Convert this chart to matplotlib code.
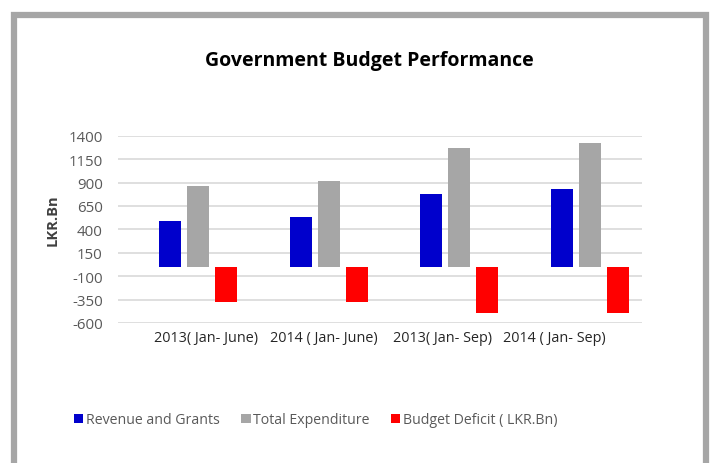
import numpy as np
import matplotlib
matplotlib.use("Agg")
import matplotlib.pyplot as plt
from matplotlib.patches import Rectangle, Patch

plt.rcParams['font.family'] = ['Open Sans', 'DejaVu Sans']

# ---- Data (LKR.Bn) ---------------------------------------------------------
periods = ["2013( Jan- June)", "2014 ( Jan- June)", "2013( Jan- Sep)", "2014 ( Jan- Sep)"]
revenue = [486, 536, 781, 831]
expenditure = [863, 913, 1268, 1318]
deficit = [-376, -376, -493, -489]
series_names = ["Revenue and Grants", "Total Expenditure", "Budget Deficit ( LKR.Bn)"]
yticks = [-600, -350, -100, 150, 400, 650, 900, 1150, 1400]

C_REV = '#0000CC'
C_EXP = '#A6A6A6'
C_DEF = '#FF0000'

W, H = 712, 464
fig = plt.figure(figsize=(W / 100, H / 100), dpi=100)
fig.patch.set_facecolor('white')

# grey frame around the chart (open at the bottom, as in the source image)
fig.patches.append(Rectangle((14 / W, -0.05), (706 - 14) / W, 1.05 - 15.5 / H,
                             transform=fig.transFigure, fill=False,
                             edgecolor='#A6A6A6', linewidth=4.5))

ax = fig.add_axes([118 / W, 1 - 324 / H, (642 - 118) / W, (324 - 136.7) / H])
x = np.arange(len(periods))
step = 0.214
width = 0.168
ax.bar(x - step, revenue, width, color=C_REV, label=series_names[0])
ax.bar(x, expenditure, width, color=C_EXP, label=series_names[1])
ax.bar(x + step, deficit, width, color=C_DEF, label=series_names[2])

ax.set_xlim(-0.612, 3.398)
ax.set_ylim(-600, 1400)
ax.set_yticks(yticks)
ax.set_yticklabels([str(v) for v in yticks])
ax.tick_params(axis='y', length=0, pad=11, labelsize=10.8, labelcolor='#595959')
# category labels sit a bit off the bar groups in the original
ax.set_xticks(x + np.array([0.06, -0.04, -0.13, -0.27]))
ax.set_xticklabels(periods)
ax.tick_params(axis='x', length=0, pad=5, labelsize=10.4, labelcolor='#262626')
ax.grid(axis='y', color='#D9D9D9', linewidth=1.2)
ax.set_axisbelow(True)
for s in ax.spines.values():
    s.set_visible(False)
ax.set_ylabel('LKR.Bn', fontsize=10.5, fontweight='bold', color='#404040',
              va='center')
ax.yaxis.set_label_coords(-0.124, 0.555)

fig.text(369 / W, 1 - 61 / H, 'Government Budget Performance', ha='center', va='center',
         fontsize=14, fontweight='bold', color='black')

handles = [Patch(facecolor=c) for c in (C_REV, C_EXP, C_DEF)]
fig.legend(handles, series_names, loc='center', bbox_to_anchor=(316 / W, 1 - 421 / H),
           ncol=3, frameon=False, fontsize=10.2, labelcolor='#595959',
           handlelength=0.65, handleheight=0.65, handletextpad=0.2, columnspacing=1.5)

fig.savefig('out.png', dpi=100, facecolor='white')
